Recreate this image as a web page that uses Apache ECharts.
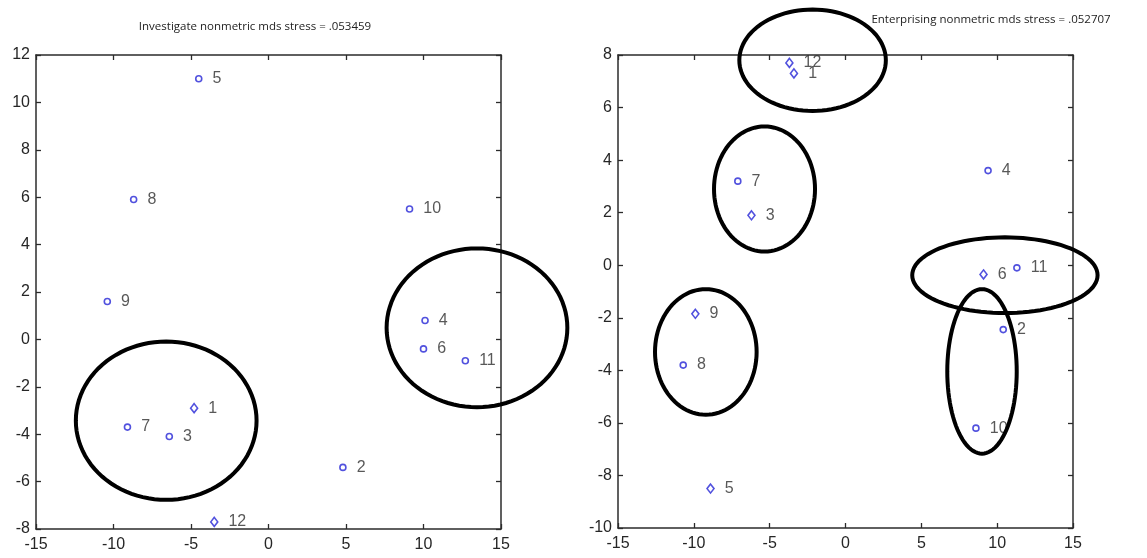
<!DOCTYPE html>
<html><head><meta charset="utf-8">
<script src="https://cdn.jsdelivr.net/npm/echarts@6/dist/echarts.min.js"></script>
<style>html,body{margin:0;padding:0;background:#fff}#c{width:1147px;height:558px}</style>
</head><body><div id="c"></div>
<script>
// ---- data ----
const xTicks = [-15, -10, -5, 0, 5, 10, 15];
const leftYTicks = [-8, -6, -4, -2, 0, 2, 4, 6, 8, 10, 12];
const rightYTicks = [-10, -8, -6, -4, -2, 0, 2, 4, 6, 8];

const leftTitle = 'Investigate nonmetric mds stress = .053459';
const rightTitle = 'Enterprising nonmetric mds stress = .052707';

const leftLabels = ['1','2','3','4','5','6','7','8','9','10','11','12'];
const leftX = [-4.8, 4.8, -6.4, 10.1, -4.5, 10.0, -9.1, -8.7, -10.4, 9.1, 12.7, -3.5];
const leftY = [-2.9, -5.4, -4.1, 0.8, 11.0, -0.4, -3.7, 5.9, 1.6, 5.5, -0.9, -7.7];

const rightLabels = ['1','2','3','4','5','6','7','8','9','10','11','12'];
const rightX = [-3.4, 10.4, -6.2, 9.4, -8.9, 9.1, -7.1, -10.7, -9.9, 8.6, 11.3, -3.7];
const rightY = [7.3, -2.45, 1.9, 3.6, -8.5, -0.35, 3.2, -3.8, -1.85, -6.2, -0.1, 7.7];

// ellipse annotations: centre x, centre y, radius x, radius y (data units)
const leftEllipseCx = [-6.6, 13.45];
const leftEllipseCy = [-3.43, 0.49];
const leftEllipseRx = [5.83, 5.83];
const leftEllipseRy = [3.34, 3.35];

const rightEllipseCx = [-2.17, -5.34, -9.21, 10.51, 9.0];
const rightEllipseCy = [7.8, 2.9, -3.3, -0.38, -4.04];
const rightEllipseRx = [4.83, 3.33, 3.35, 6.11, 2.29];
const rightEllipseRy = [1.93, 2.38, 2.39, 1.44, 3.13];

// ---- rendering ----
const leftDiamonds = new Set(['1','12']);
const rightDiamonds = new Set(['1','12','3','9','5','6']);

const chart = echarts.init(document.getElementById('c'));
const axisCol = '#2b2b2b';
const tickFont = {fontFamily: 'Liberation Sans, Arial, sans-serif', fontSize: 16, color: '#262626'};

function axesFor(gi, yTicks) {
  const yMin = yTicks[0], yMax = yTicks[yTicks.length - 1];
  const common = {
    type: 'value', gridIndex: gi, splitLine: {show: false},
    axisLine: {show: true, onZero: false, lineStyle: {color: axisCol, width: 1.5}},
    axisTick: {show: true, inside: true, length: 5, lineStyle: {color: axisCol, width: 1.3}}
  };
  const xa = [
    Object.assign({}, common, {min: xTicks[0], max: xTicks[xTicks.length-1], interval: 5, position: 'bottom',
      axisLabel: Object.assign({margin: 8}, tickFont)}),
    Object.assign({}, common, {min: xTicks[0], max: xTicks[xTicks.length-1], interval: 5, position: 'top',
      axisLabel: {show: false}})
  ];
  const ya = [
    Object.assign({}, common, {min: yMin, max: yMax, interval: 2, position: 'left',
      axisLabel: Object.assign({margin: 6}, tickFont)}),
    Object.assign({}, common, {min: yMin, max: yMax, interval: 2, position: 'right',
      axisLabel: {show: false}})
  ];
  return {xa, ya};
}

const L = axesFor(0, leftYTicks);
const R = axesFor(1, rightYTicks);

function scatterData(xs, ys, labels) {
  return xs.map((x, i) => [x, ys[i], labels[i]]);
}
function ellipseData(cx, cy, rx, ry) {
  return cx.map((c, i) => [c, cy[i], rx[i], ry[i]]);
}

function scatterSeries(xi, yi, data, diamonds) {
  return {
    type: 'scatter', xAxisIndex: xi, yAxisIndex: yi, data: data,
    symbol: (v) => diamonds.has(v[2]) ? 'diamond' : 'circle',
    symbolSize: (v) => diamonds.has(v[2]) ? [7, 9] : 6,
    itemStyle: {color: 'rgba(0,0,0,0)', borderColor: '#2626d6', borderWidth: 1.6},
    label: {show: true, position: 'right', distance: 10, formatter: (p) => p.value[2],
      fontFamily: 'Liberation Sans, Arial, sans-serif', fontSize: 16, color: '#2e2e2e'},
    emphasis: {disabled: true}, z: 3
  };
}

function ellipseSeries(xi, yi, data) {
  return {
    type: 'custom', xAxisIndex: xi, yAxisIndex: yi, data: data, clip: false, z: 5,
    renderItem: function (params, api) {
      const cx = api.value(0), cy = api.value(1), rx = api.value(2), ry = api.value(3);
      const pts = [];
      for (let k = 0; k < 96; k++) {
        const t = k / 96 * Math.PI * 2;
        pts.push(api.coord([cx + rx * Math.cos(t), cy + ry * Math.sin(t)]));
      }
      return {type: 'polygon', shape: {points: pts},
        style: {fill: 'none', stroke: '#000', lineWidth: 4}};
    },
    encode: {x: 0, y: 1}
  };
}

const titleStyle = {fontFamily: 'Liberation Sans Narrow, Open Sans, sans-serif', fontSize: 11.5, fontWeight: 'normal', color: '#222'};

chart.setOption({
  animation: false,
  title: [
    {text: leftTitle, left: 250, top: 16, textAlign: 'center', textStyle: titleStyle},
    {text: rightTitle, left: 986, top: 9, textAlign: 'center', textStyle: titleStyle}
  ],
  grid: [
    {left: 36, right: 1147 - 501, top: 55, bottom: 558 - 529},
    {left: 618, right: 1147 - 1073, top: 55, bottom: 558 - 528}
  ],
  xAxis: [L.xa[0], L.xa[1], Object.assign({}, R.xa[0], {gridIndex: 1}), Object.assign({}, R.xa[1], {gridIndex: 1})],
  yAxis: [L.ya[0], L.ya[1], Object.assign({}, R.ya[0], {gridIndex: 1}), Object.assign({}, R.ya[1], {gridIndex: 1})],
  series: [
    scatterSeries(0, 0, scatterData(leftX, leftY, leftLabels), leftDiamonds),
    ellipseSeries(0, 0, ellipseData(leftEllipseCx, leftEllipseCy, leftEllipseRx, leftEllipseRy)),
    scatterSeries(2, 2, scatterData(rightX, rightY, rightLabels), rightDiamonds),
    ellipseSeries(2, 2, ellipseData(rightEllipseCx, rightEllipseCy, rightEllipseRx, rightEllipseRy))
  ]
});
</script></body></html>
